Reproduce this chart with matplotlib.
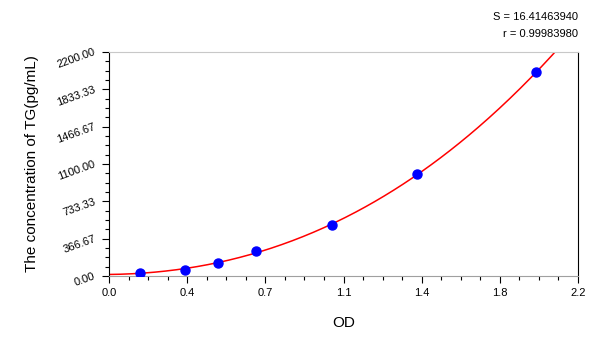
import numpy as np
import matplotlib.pyplot as plt
from matplotlib.ticker import AutoMinorLocator

plt.rcParams['font.family'] = ['Liberation Sans', 'DejaVu Sans']

# standards
od = [0.145, 0.355, 0.512, 0.690, 1.048, 1.446, 2.003]
conc = [31.25, 62.5, 125, 250, 500, 1000, 2000]
xticks = [0, 2.2 / 6 * 1, 2.2 / 6 * 2, 1.1, 2.2 / 6 * 4, 2.2 / 6 * 5, 2.2]
xlabels = ["0.0", "0.4", "0.7", "1.1", "1.4", "1.8", "2.2"]
yticks = [0, 366.67, 733.33, 1100, 1466.67, 1833.33, 2200]
ylabels = ["0.00", "366.67", "733.33", "1100.00", "1466.67", "1833.33", "2200.00"]
s_text = "S = 16.41463940"
r_text = "r = 0.99983980"

# fitted curve
coef = np.polyfit(od, conc, 3)
xx = np.linspace(0, 2.2, 400)
yy = np.polyval(coef, xx)

fig = plt.figure(figsize=(6, 3.37), dpi=100)
ax = fig.add_axes([0.1817, 0.181, 0.7817, 0.6647])

ax.plot(xx, yy, color='red', lw=1.1, zorder=2)
ax.plot(od, conc, 'o', color='blue', ms=6.5, zorder=3)

ax.set_xlim(0, 2.2)
ax.set_ylim(0, 2200)
ax.set_xticks(xticks)
ax.set_xticklabels(xlabels)
ax.set_yticks(yticks)
ax.set_yticklabels(ylabels)
ax.xaxis.set_minor_locator(AutoMinorLocator(4))
ax.yaxis.set_minor_locator(AutoMinorLocator(4))
ax.tick_params(which='major', length=5, width=0.8, labelsize=8, direction='out')
ax.tick_params(which='minor', length=3, width=0.8, direction='out')
ax.tick_params(axis='y', pad=5)
for lab in ax.get_yticklabels():
    lab.set_rotation(20)
    lab.set_rotation_mode('anchor')
    lab.set_ha('right')
    lab.set_va('center')

ax.spines['top'].set_color('#c8c8c8')
ax.spines['bottom'].set_color('#a0a0a0')
ax.spines['left'].set_color('black')
ax.spines['right'].set_color('black')

ax.set_xlabel("OD", fontsize=11, labelpad=13)
ax.set_ylabel("The concentration of TG(pg/mL)", fontsize=11, labelpad=12)

fig.text(0.963, 0.95, s_text, ha='right', va='center', fontsize=8)
fig.text(0.963, 0.90, r_text, ha='right', va='center', fontsize=8)

fig.savefig("out.png", dpi=100)
